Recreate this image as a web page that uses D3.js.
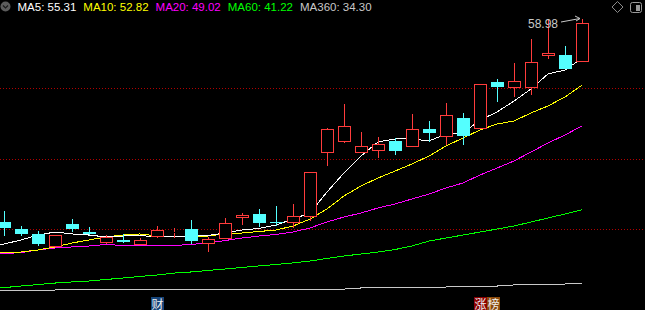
<!DOCTYPE html>
<html>
<head>
<meta charset="utf-8">
<script src="https://cdn.jsdelivr.net/npm/d3@7"></script>
<style>
    html, body { margin: 0; padding: 0; background: #000; }
    #chart { width: 645px; height: 310px; }
    svg { display: block; }
</style>
</head>
<body>
<div id="chart"></div>
<script>
// candles
const opens  = [40.07, 39.42, 38.96, 37.75, 39.89, 39.10, 38.12, 38.40, 37.93, 38.68, 39.12, 39.42, 38.03, 38.49, 40.45, 40.82, 40.12, 39.98, 40.54, 46.50, 47.53, 46.50, 46.69, 47.62, 47.06, 48.74, 47.99, 49.76, 48.74, 53.11, 52.51, 52.60, 55.54, 55.63, 54.98];
const highs  = [41.10, 39.70, 39.24, 38.86, 40.35, 39.61, 38.86, 38.96, 38.58, 39.70, 39.52, 40.26, 38.68, 40.45, 40.91, 41.29, 41.57, 41.75, 44.73, 48.83, 51.07, 48.46, 47.99, 47.90, 50.13, 49.48, 51.16, 50.23, 52.93, 53.39, 54.88, 57.12, 58.90, 56.47, 58.98];
const lows   = [38.77, 38.77, 37.84, 37.75, 39.14, 38.82, 38.03, 38.12, 37.93, 38.58, 38.58, 38.03, 37.28, 38.49, 39.80, 39.61, 39.70, 39.47, 40.21, 45.29, 47.43, 46.50, 46.04, 46.32, 47.06, 47.53, 47.25, 47.29, 48.74, 51.25, 51.72, 51.90, 55.26, 54.33, 54.98];
const closes = [39.52, 38.96, 38.03, 38.86, 39.42, 39.00, 38.68, 38.21, 38.40, 39.33, 39.14, 38.31, 38.49, 39.98, 40.73, 39.98, 40.03, 40.63, 44.73, 48.74, 49.02, 47.15, 47.34, 46.69, 48.74, 48.36, 50.04, 48.13, 52.93, 52.65, 53.21, 54.98, 55.82, 54.33, 58.61];

// moving averages
const ma5   = [37.93, 38.40, 38.86, 39.14, 38.96, 38.86, 38.68, 38.77, 38.82, 38.68, 38.68, 38.77, 38.82, 39.05, 39.33, 39.47, 39.80, 40.35, 40.91, 42.87, 44.64, 46.22, 47.53, 47.81, 47.81, 47.62, 48.27, 48.36, 49.57, 50.32, 51.34, 52.46, 53.86, 54.23, 55.31];
const ma10  = [37.19, 37.28, 37.47, 37.75, 38.12, 38.40, 38.68, 38.86, 38.96, 38.77, 38.77, 38.77, 38.77, 38.96, 39.05, 39.19, 39.33, 39.70, 40.35, 41.29, 42.50, 43.43, 44.17, 44.82, 45.48, 46.22, 47.15, 47.90, 48.64, 49.20, 49.48, 50.23, 50.88, 51.72, 52.82];
const ma20  = [37.09, 37.23, 37.47, 37.65, 37.75, 37.84, 37.98, 37.89, 37.84, 37.84, 37.89, 37.98, 38.12, 38.35, 38.58, 38.77, 38.91, 39.14, 39.52, 40.08, 40.54, 40.91, 41.38, 41.75, 42.22, 42.68, 43.24, 43.71, 44.45, 45.10, 45.76, 46.59, 47.43, 48.18, 49.02];
const ma60  = [33.93, 34.11, 34.25, 34.39, 34.49, 34.58, 34.72, 34.86, 35.00, 35.14, 35.32, 35.42, 35.56, 35.70, 35.84, 35.98, 36.12, 36.26, 36.44, 36.68, 36.91, 37.09, 37.28, 37.51, 37.84, 38.30, 38.58, 38.86, 39.14, 39.42, 39.70, 40.07, 40.45, 40.82, 41.22];
const ma360 = [33.74, 33.74, 33.74, 33.74, 33.83, 33.83, 33.83, 33.83, 33.83, 33.83, 33.83, 33.83, 33.83, 33.83, 33.83, 33.83, 33.83, 33.83, 33.83, 33.83, 33.83, 33.93, 33.93, 33.93, 33.93, 34.02, 34.02, 34.11, 34.11, 34.11, 34.21, 34.21, 34.30, 34.30, 34.35];

const maNames  = ["MA5", "MA10", "MA20", "MA60", "MA360"];
const maLast   = ["55.31", "52.82", "49.02", "41.22", "34.30"];
const maColors = ["#ffffff", "#ffff00", "#ff00ff", "#00ff00", "#c8c8c8"];

const gridPrices = [39.42, 45.94, 52.56];
const maxLabel = "58.98";

const eventIndex = [9, 28];
const eventTexts = [["财"], ["涨", "榜"]];
const eventColors = [["#17457a"], ["#8b0000", "#8b4a0c"]];

const width = 645;
const height = 310;
const upColor = "#ff3c3c";
const downColor = "#54ffff";

const svg = d3.select("#chart")
    .append("svg")
    .attr("width", width)
    .attr("height", height)
    .style("background", "#000");

const x = d3.scaleLinear().domain([0, closes.length - 1]).range([4, 582]);
const y = d3.scaleLinear().domain([34.30, 58.98]).range([284, 19]);

// dotted grid
svg.append("g")
    .selectAll("line")
    .data(gridPrices)
    .join("line")
    .attr("x1", 0)
    .attr("x2", width)
    .attr("y1", d => Math.round(y(d)) + 0.5)
    .attr("y2", d => Math.round(y(d)) + 0.5)
    .attr("stroke", "#b00000")
    .attr("stroke-dasharray", "1,2");

// moving average lines (first point pinned to the left edge)
const maSeries = [ma360, ma60, ma20, ma10, ma5];
const maSeriesColors = [maColors[4], maColors[3], maColors[2], maColors[1], maColors[0]];
const line = d3.line().x((d, i) => i === 0 ? 0 : x(i)).y(d => y(d));

svg.append("g")
    .selectAll("path")
    .data(maSeries)
    .join("path")
    .attr("d", d => line(d))
    .attr("fill", "none")
    .attr("stroke", (d, i) => maSeriesColors[i])
    .attr("stroke-width", 1)
    .attr("shape-rendering", "crispEdges");

// candles
const candles = d3.range(closes.length).map(i => ({
    i: i,
    o: opens[i],
    h: highs[i],
    l: lows[i],
    c: closes[i],
    up: closes[i] >= opens[i]
}));

const cg = svg.append("g")
    .selectAll("g")
    .data(candles)
    .join("g");

cg.each(function (d) {
    const g = d3.select(this);
    const cx = Math.round(x(d.i));
    const top = Math.round(y(Math.max(d.o, d.c)));
    let bottom = Math.round(y(Math.min(d.o, d.c)));
    if (bottom - top < 1) bottom = top + 1;
    const hy = Math.round(y(d.h));
    const ly = Math.round(y(d.l));
    const color = d.up ? upColor : downColor;

    if (d.up) {
        if (hy < top) {
            g.append("line")
                .attr("x1", cx + 0.5).attr("x2", cx + 0.5)
                .attr("y1", hy).attr("y2", top)
                .attr("stroke", color);
        }
        if (ly > bottom) {
            g.append("line")
                .attr("x1", cx + 0.5).attr("x2", cx + 0.5)
                .attr("y1", bottom).attr("y2", ly)
                .attr("stroke", color);
        }
        g.append("rect")
            .attr("x", cx - 5.5)
            .attr("y", top + 0.5)
            .attr("width", 12)
            .attr("height", Math.max(bottom - top - 1, 0))
            .attr("fill", "#000")
            .attr("stroke", color)
            .attr("stroke-width", 1);
    } else {
        g.append("line")
            .attr("x1", cx + 0.5).attr("x2", cx + 0.5)
            .attr("y1", hy).attr("y2", ly)
            .attr("stroke", color);
        g.append("rect")
            .attr("x", cx - 6)
            .attr("y", top)
            .attr("width", 13)
            .attr("height", bottom - top)
            .attr("fill", color);
    }
});

// max price marker
const maxIdx = d3.maxIndex(highs);
const mx = x(maxIdx);
const my = y(highs[maxIdx]);
svg.append("text")
    .attr("x", mx - 24)
    .attr("y", my + 9)
    .attr("text-anchor", "end")
    .attr("fill", "#c8c8c8")
    .attr("font-family", "'Liberation Sans', Arial, sans-serif")
    .attr("font-size", "12px")
    .text(maxLabel);
svg.append("path")
    .attr("d", `M${mx - 21},${my + 3} L${mx - 2},${my - 0.5} M${mx - 7},${my - 3} L${mx - 2},${my - 0.5} L${mx - 6},${my + 2}`)
    .attr("fill", "none")
    .attr("stroke", "#c8c8c8")
    .attr("stroke-width", 1);

// legend
const legend = svg.append("g");
legend.append("circle")
    .attr("cx", 5.5)
    .attr("cy", 6.5)
    .attr("r", 5)
    .attr("fill", "#5c5c5c");
legend.append("path")
    .attr("d", "M3,5.5 L5.5,8 L8,5.5")
    .attr("fill", "none")
    .attr("stroke", "#1a1a1a")
    .attr("stroke-width", 1.2);

let lx = 17.5;
maNames.forEach((name, i) => {
    const t = legend.append("text")
        .attr("x", lx)
        .attr("y", 11)
        .attr("fill", maColors[i])
        .attr("font-family", "'Liberation Sans', Arial, sans-serif")
        .attr("font-size", "11.5px")
        .text(`${name}: ${maLast[i]}`);
    lx += t.node().getComputedTextLength() + 7;
});

// top right icons
svg.append("path")
    .attr("d", "M617.5,1.5 L623,7 L617.5,12.5 L612,7 Z")
    .attr("fill", "none")
    .attr("stroke", "#8a8a8a");
svg.append("rect")
    .attr("x", 630.5).attr("y", 2.5)
    .attr("width", 11).attr("height", 10)
    .attr("rx", 2)
    .attr("fill", "none")
    .attr("stroke", "#9a9a9a");
svg.append("rect")
    .attr("x", 636).attr("y", 5)
    .attr("width", 4).attr("height", 6)
    .attr("fill", "#9a9a9a");

// event tags along the bottom
eventIndex.forEach((idx, k) => {
    eventTexts[k].forEach((ch, j) => {
        const left = Math.round(x(idx)) - 6 + j * 13;
        svg.append("rect")
            .attr("x", left)
            .attr("y", 297)
            .attr("width", 13)
            .attr("height", 13)
            .attr("fill", eventColors[k][j]);
        svg.append("text")
            .attr("x", left + 6.5)
            .attr("y", 308.5)
            .attr("text-anchor", "middle")
            .attr("fill", "#f0f0f0")
            .attr("font-family", "'Noto Sans CJK SC', sans-serif")
            .attr("font-size", "12px")
            .text(ch);
    });
});
</script>
</body>
</html>
